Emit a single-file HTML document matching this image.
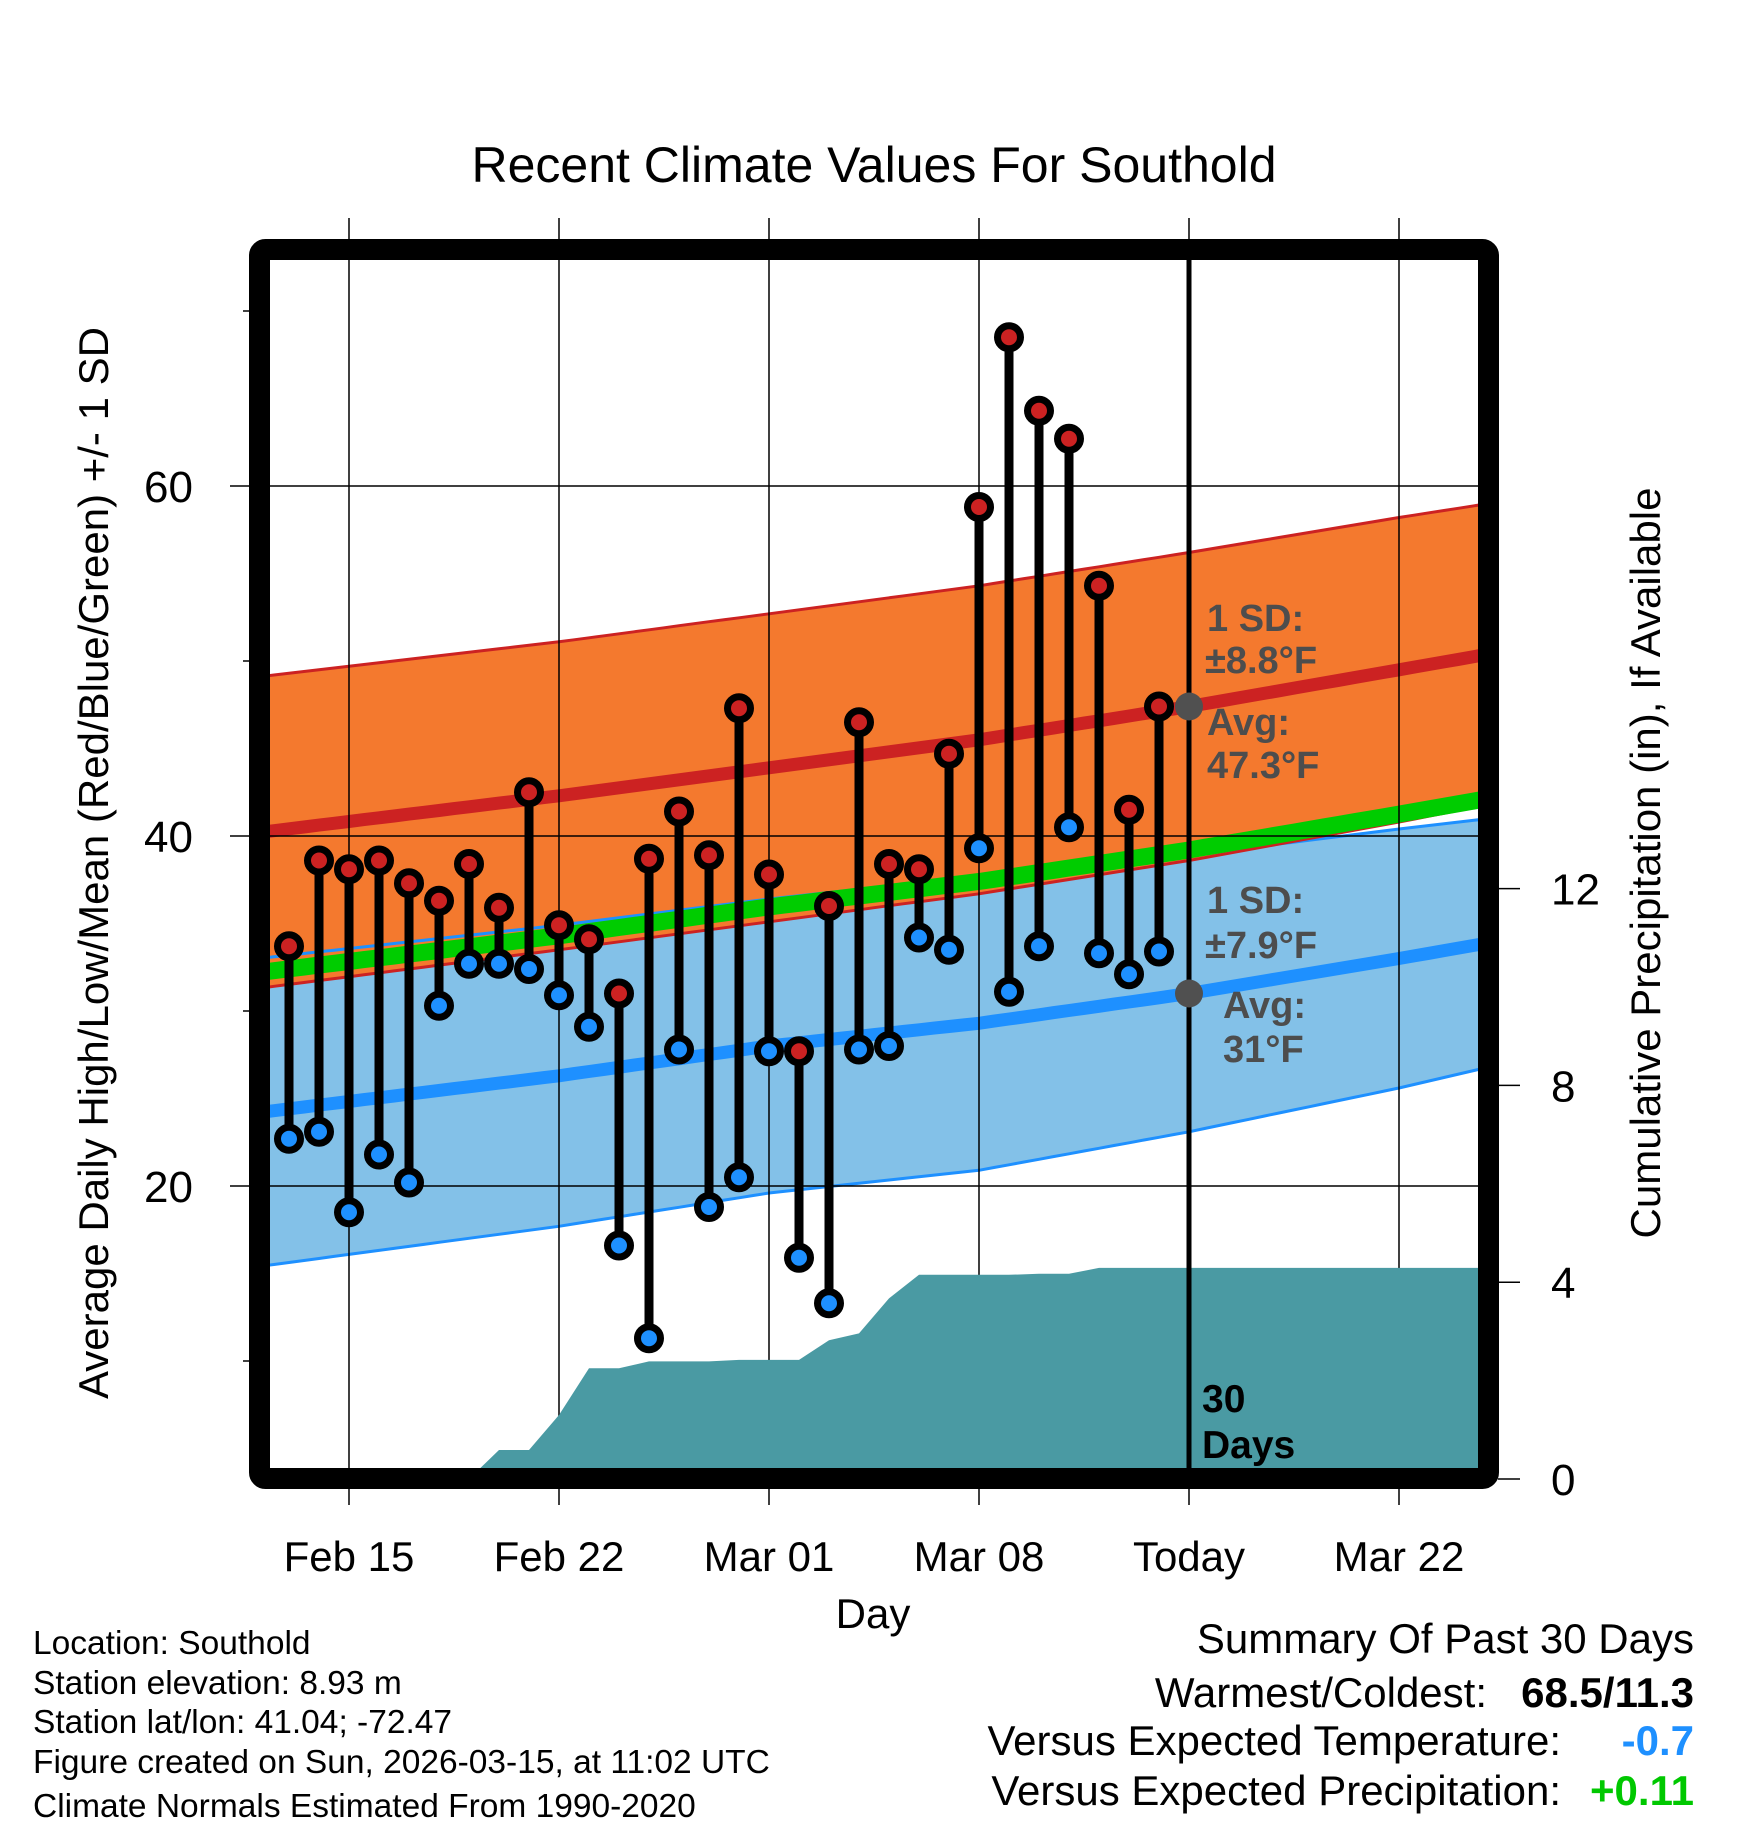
<!DOCTYPE html>
<html><head><meta charset="utf-8"><style>
html,body{margin:0;padding:0;background:#fff;}
svg{display:block;font-family:"Liberation Sans",sans-serif;}
</style></head><body>
<svg id="chart" width="1748" height="1828" viewBox="0 0 1748 1828" xmlns="http://www.w3.org/2000/svg">
<defs><clipPath id="plotclip"><rect x="270" y="260" width="1208" height="1208"/></clipPath></defs>
<text x="874" y="182" font-size="50" text-anchor="middle">Recent Climate Values For Southold</text>
<g id="grid"></g>
<g id="plot" clip-path="url(#plotclip)"></g>
<g id="over"></g>
<rect x="259.5" y="249.5" width="1229" height="1229" rx="6" fill="none" stroke="#000" stroke-width="21"/>
<g id="axes"></g>
<text transform="translate(108,863) rotate(-90)" font-size="42" text-anchor="middle">Average Daily High/Low/Mean (Red/Blue/Green) +/- 1 SD</text>
<text transform="translate(1660,863) rotate(-90)" font-size="42" text-anchor="middle">Cumulative Precipitation (in), If Available</text>
<text x="873" y="1628" font-size="42" text-anchor="middle">Day</text>
<g font-size="33.5">
<text x="33" y="1654">Location: Southold</text>
<text x="33" y="1694">Station elevation: 8.93 m</text>
<text x="33" y="1733">Station lat/lon: 41.04; -72.47</text>
<text x="33" y="1773">Figure created on Sun, 2026-03-15, at 11:02 UTC</text>
<text x="33" y="1817">Climate Normals Estimated From 1990-2020</text>
</g>
<g font-size="42">
<text x="1694" y="1653" text-anchor="end">Summary Of Past 30 Days</text>
<text x="1487" y="1707" text-anchor="end">Warmest/Coldest:</text>
<text x="1694" y="1707" text-anchor="end" font-weight="bold">68.5/11.3</text>
<text x="1561" y="1755" text-anchor="end">Versus Expected Temperature:</text>
<text x="1694" y="1755" text-anchor="end" font-weight="bold" fill="#1e90ff">-0.7</text>
<text x="1561" y="1805" text-anchor="end">Versus Expected Precipitation:</text>
<text x="1694" y="1805" text-anchor="end" font-weight="bold" fill="#00c800">+0.11</text>
</g>
</svg>
<script>
// data (days relative to Feb 15)
const obsDays = [-2,-1,0,1,2,3,4,5,6,7,8,9,10,11,12,13,14,15,16,17,18,19,20,21,22,23,24,25,26,27];
const highs = [33.7,38.6,38.1,38.6,37.3,36.3,38.4,35.9,42.5,34.9,34.1,31.0,38.7,41.4,38.9,47.3,37.8,27.7,36.0,46.5,38.4,38.1,44.7,58.8,68.5,64.3,62.7,54.3,41.5,47.4];
const lows = [22.7,23.1,18.5,21.8,20.2,30.3,32.7,32.7,32.4,30.9,29.1,16.6,11.3,27.8,18.8,20.5,27.7,15.9,13.3,27.8,28.0,34.2,33.5,39.3,31.1,33.7,40.5,33.3,32.1,33.4];
const precip = [0,0,0,0,0,0,0,0.59,0.59,1.30,2.25,2.25,2.39,2.39,2.39,2.42,2.42,2.42,2.82,2.96,3.67,4.15,4.15,4.15,4.15,4.17,4.17,4.29,4.29,4.29];
const normDays = [-3,7,14,21,28,35,38];
const normHigh = [40.2,42.3,43.9,45.5,47.4,49.5,50.4];
const normLow = [24.2,26.3,28.0,29.3,31.0,33.0,33.9];
const sdHigh = [8.9,8.8,8.8,8.8,8.8,8.7,8.6];
const sdLow = [8.8,8.6,8.4,8.4,7.9,7.4,7.1];
const xTickDays = [0,7,14,21,28,35];
const xTickLabels = ["Feb 15","Feb 22","Mar 01","Mar 08","Today","Mar 22"];
const yTicks = [20,40,60];
const yMinor = [10,30,50,70];
const pTicks = [0,4,8,12];
const todayDay = 28;

const NS="http://www.w3.org/2000/svg";
const X = d => 349 + 30*d;
const Y = t => 486 + (60-t)*17.5;
const P = p => 1479 - 49.2*p;
function mk(parent, tag, attrs){const e=document.createElementNS(NS,tag);for(const k in attrs)e.setAttribute(k,attrs[k]);parent.appendChild(e);return e;}
function interp(arr,d){for(let i=0;i<normDays.length-1;i++){if(d<=normDays[i+1]||i==normDays.length-2){const f=(d-normDays[i])/(normDays[i+1]-normDays[i]);return arr[i]+f*(arr[i+1]-arr[i]);}}}
const grid=document.getElementById('grid'), plot=document.getElementById('plot'), over=document.getElementById('over'), axes=document.getElementById('axes');

const samples=[];for(let d=-3;d<=38;d+=0.5)samples.push(d);
function line(fn){return samples.map(d=>X(d).toFixed(1)+','+Y(fn(d)).toFixed(1)).join(' ');}
function band(fnTop,fnBot,fill,name){
  const pts=samples.map(d=>X(d).toFixed(1)+','+Y(fnTop(d)).toFixed(1)).concat(samples.slice().reverse().map(d=>X(d).toFixed(1)+','+Y(fnBot(d)).toFixed(1)));
  const e=mk(plot,'polygon',{points:pts.join(' '),fill:fill});
  
  
}
const hi=d=>interp(normHigh,d), lo=d=>interp(normLow,d), sh=d=>interp(sdHigh,d), sl=d=>interp(sdLow,d);
band(d=>lo(d)+sl(d), d=>lo(d)-sl(d), '#83c1e8', 'low-sd-band');
band(d=>hi(d)+sh(d), d=>hi(d)-sh(d), '#f4792e', 'high-sd-band');
function pl(fn,color,w,name){const e=mk(plot,'polyline',{points:line(fn),fill:'none',stroke:color,'stroke-width':w});
  
  }
pl(d=>lo(d)+sl(d),'#1e90ff',3,'low-sd-upper');
pl(d=>lo(d)-sl(d),'#1e90ff',3,'low-sd-lower');
pl(d=>hi(d)+sh(d),'#cc2222',3,'high-sd-upper');
pl(d=>hi(d)-sh(d),'#cc2222',3,'high-sd-lower');
pl(d=>(hi(d)+lo(d))/2,'#00cc00',17,'mean-normal-line');
pl(lo,'#1e90ff',13,'low-normal-line');
pl(hi,'#cc2222',13,'high-normal-line');

xTickDays.forEach((d,i)=>{
  const l=mk(grid,'line',{x1:X(d),x2:X(d),y1:218,y2:1505,stroke:'#000','stroke-width':1.5});
  
  
  const t=mk(axes,'text',{x:X(d),y:1571,'font-size':42,'text-anchor':'middle'});t.textContent=xTickLabels[i];
  
  
});
yTicks.forEach(v=>{
  const l=mk(grid,'line',{x1:230,x2:1478,y1:Y(v),y2:Y(v),stroke:'#000','stroke-width':1.5});
  
  
  const t=mk(axes,'text',{x:193,y:Y(v)+16,'font-size':44,'text-anchor':'end'});t.textContent=v;
  
  
});
yMinor.forEach(v=>{
  const l=mk(axes,'line',{x1:243,x2:250,y1:Y(v),y2:Y(v),stroke:'#000','stroke-width':1.5});
  
  
});
pTicks.forEach(v=>{
  const l=mk(axes,'line',{x1:1498,x2:1520,y1:P(v),y2:P(v),stroke:'#000','stroke-width':1.5});
  
  
  const t=mk(axes,'text',{x:1551,y:P(v)+16,'font-size':44});t.textContent=v;
  
  
});
plot.parentNode.insertBefore(plot, grid);

{
  let pts=[X(-3)+','+P(0)];
  pts.push(X(-3)+','+P(precip[0]));
  obsDays.forEach((d,i)=>{pts.push(X(d)+','+P(precip[i]).toFixed(1));});
  pts.push(X(38)+','+P(precip[precip.length-1]).toFixed(1));
  pts.push(X(38)+','+P(0));
  const e=mk(over,'polygon',{points:pts.join(' '),fill:'#4a9aa3','clip-path':'url(#plotclip)'});
  
  
}
{
  const e=mk(over,'line',{x1:X(todayDay),x2:X(todayDay),y1:255,y2:1470,stroke:'#000','stroke-width':5});
  
  
}
obsDays.forEach((d,i)=>{
  const s=mk(over,'line',{x1:X(d),x2:X(d),y1:Y(highs[i]),y2:Y(lows[i]),stroke:'#000','stroke-width':9});
  
  
});
obsDays.forEach((d,i)=>{
  const h=mk(over,'circle',{cx:X(d),cy:Y(highs[i]),r:11.5,fill:'#cc2222',stroke:'#000','stroke-width':7});
  
  
  const l=mk(over,'circle',{cx:X(d),cy:Y(lows[i]),r:11.5,fill:'#1e90ff',stroke:'#000','stroke-width':7});
  
  
});
{
  const a=mk(over,'circle',{cx:X(todayDay),cy:Y(hi(todayDay)),r:14,fill:'#505050'});
  
  
  const b=mk(over,'circle',{cx:X(todayDay),cy:Y(lo(todayDay)),r:14,fill:'#505050'});
  
  
}
const ann=[["1 SD:",1207,631,"high-sd-label"],["±8.8°F",1205,673,"high-sd-value"],["Avg:",1207,735,"high-avg-label"],["47.3°F",1207,778,"high-avg-value"],
["1 SD:",1207,913,"low-sd-label"],["±7.9°F",1205,958,"low-sd-value"],["Avg:",1223,1018,"low-avg-label"],["31°F",1223,1062,"low-avg-value"]];
ann.forEach(a=>{
  const t=mk(over,'text',{x:a[1],y:a[2],'font-size':38,'font-weight':'bold',fill:'#4d4d4d'});t.textContent=a[0];
  
  
});
{
  const t1=mk(over,'text',{x:1202,y:1412,'font-size':39,'font-weight':'bold'});t1.textContent="30";
  
  
  const t2=mk(over,'text',{x:1202,y:1458,'font-size':39,'font-weight':'bold'});t2.textContent="Days";
  
  
}
</script>
</body></html>
